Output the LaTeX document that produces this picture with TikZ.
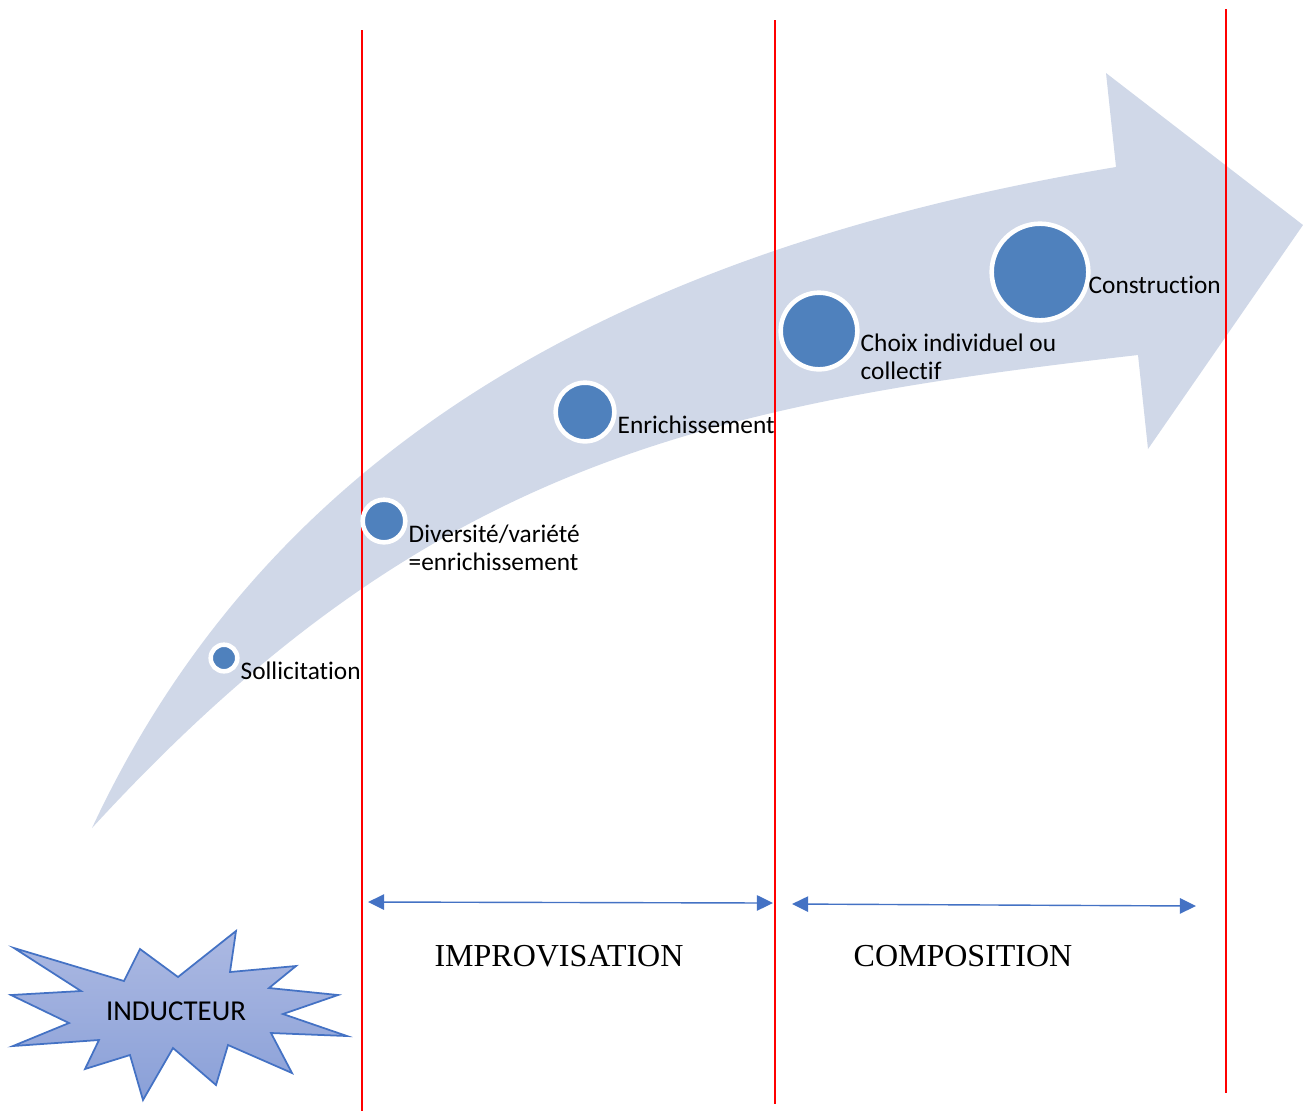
\documentclass[tikz,border=0pt]{standalone}
\usepackage{fontspec}
\setmainfont{Liberation Serif}
\newfontfamily\calib[Ligatures=NoCommon]{Carlito}
\usetikzlibrary{arrows.meta}
\definecolor{flow}{HTML}{D0D8E8}
\definecolor{dotblue}{HTML}{4F81BD}
\definecolor{spanblue}{HTML}{4472C4}
\definecolor{startop}{RGB}{172,185,226}
\definecolor{starbot}{RGB}{138,160,216}

\begin{document}
\begin{tikzpicture}[x=0.01cm, y=-0.01cm,
dot/.style={circle, fill=dotblue, draw=white, line width=1.3pt, inner sep=0pt},
lbl/.style={font=\calib\fontsize{7.2}{7.8}\selectfont, align=left, inner sep=0pt, anchor=base west},
phase/.style={font=\fontsize{9.1}{11}\selectfont, inner sep=0pt},
span/.style={draw=spanblue, line width=0.4pt, {Triangle[length=4.6pt,width=4.4pt]}-{Triangle[length=4.6pt,width=4.4pt]}},
border/.style={draw=red, line width=0.6pt}]
\useasboundingbox (0,0) rectangle (1303,1111);
% big curved arrow
\fill[flow] (92,828) .. controls (267,453) and (612,251) .. (1116,167)
  -- (1106,73) -- (1303,225) -- (1148,449) -- (1138,355)
  .. controls (700,405) and (425,465) .. cycle;
% phase borders
\foreach \x/\a/\b in {362/30/1111, 775/20/1104, 1226/9/1093}
  \draw[border] (\x,\a) -- (\x,\b);
% steps
\node[dot, minimum size=0.266cm] (sollic) at (224,658) {};
\node[dot, minimum size=0.426cm] (divers) at (384,521) {};
\node[dot, minimum size=0.586cm] (enrich) at (585,412) {};
\node[dot, minimum size=0.766cm] (choix) at (819,331) {};
\node[dot, minimum size=0.966cm] (constr) at (1040,272) {};
\node[lbl] (tsollic) at (240,679) {Sollicitation};
\node[lbl] (tdivers) at (408,570) {Diversité/variété\\=enrichissement};
\node[lbl] (tenrich) at (617,433) {Enrichissement};
\node[lbl] (tchoix) at (860,379) {Choix individuel ou\\collectif};
\node[lbl] (tconstr) at (1088,293) {Construction};
% spans
\coordinate (impL) at (368,902);
\coordinate (impR) at (773,903);
\coordinate (comL) at (792,904);
\coordinate (comR) at (1196,906);
\draw[span] (impL) -- (impR);
\draw[span] (comL) -- (comR);
\node[phase] (improv) at (559,956) {IMPROVISATION};
\node[phase] (compo) at (963,956) {COMPOSITION};
% starburst
\draw[spanblue, line width=0.5pt, top color=startop, bottom color=starbot]
  (14,948) -- (124,981) -- (140,949) -- (178,977) -- (236,931) -- (230,972)
  -- (296,966) -- (269,988) -- (338,995) -- (283,1014) -- (347,1036) -- (271,1033)
  -- (292,1073) -- (228,1045) -- (216,1085) -- (173,1048) -- (143,1100) -- (130,1055)
  -- (85,1069) -- (99,1040) -- (13,1046) -- (69,1023) -- (11,995) -- (81,991) -- cycle;
\node[font=\calib\fontsize{8.2}{10}\selectfont, inner sep=0pt] (inducteur) at (176,1011) {INDUCTEUR};
\end{tikzpicture}
\end{document}
